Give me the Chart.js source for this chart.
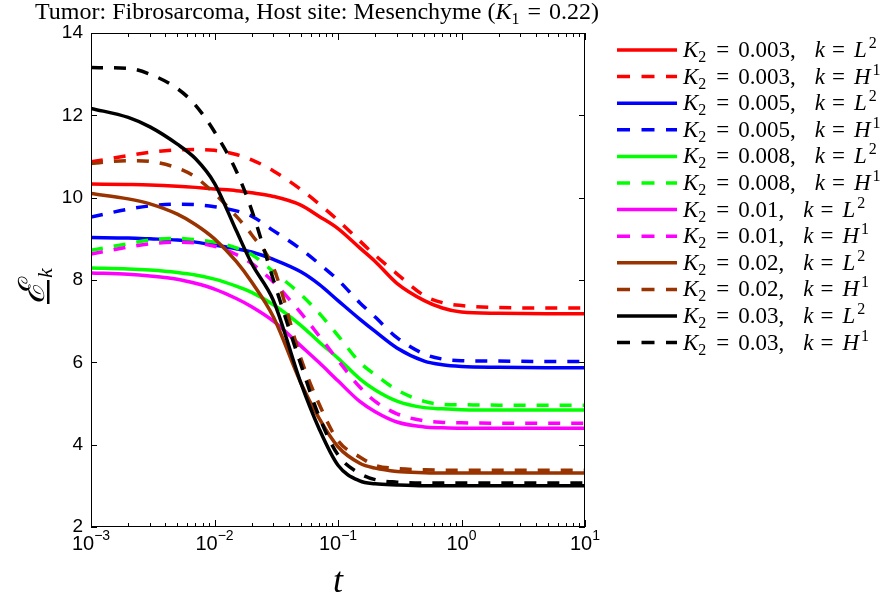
<!DOCTYPE html>
<html>
<head>
<meta charset="utf-8">
<script src="https://cdn.jsdelivr.net/npm/chart.js@4/dist/chart.umd.min.js"></script>
<style>
  html, body { margin: 0; padding: 0; background: #fff; }
  #wrap { width: 895px; height: 601px; position: relative; }
</style>
</head>
<body>
<div id="wrap"><canvas id="myChart" width="895" height="601"></canvas></div>
<script>
// time points (log axis) shared by all curves
var times = [0.001, 0.002, 0.003, 0.005, 0.007, 0.01, 0.015, 0.02, 0.03, 0.05, 0.07, 0.1, 0.15, 0.2, 0.3, 0.5, 0.7, 1, 2, 5, 10];

var k2Values = ['0.003', '0.003', '0.005', '0.005', '0.008', '0.008', '0.01', '0.01', '0.02', '0.02', '0.03', '0.03'];
var normNames = ['L', 'H', 'L', 'H', 'L', 'H', 'L', 'H', 'L', 'H', 'L', 'H'];
var normExps = ['2', '1', '2', '1', '2', '1', '2', '1', '2', '1', '2', '1'];
var colors = ['#ff0000', '#ff0000', '#0000ff', '#0000ff', '#00ff00', '#00ff00', '#ff00ff', '#ff00ff', '#993300', '#993300', '#000000', '#000000'];

var red_L2 = [10.33, 10.32, 10.31, 10.28, 10.25, 10.21, 10.17, 10.12, 10.03, 9.82, 9.55, 9.25, 8.78, 8.45, 7.92, 7.5, 7.32, 7.22, 7.19, 7.18, 7.18];
var red_H1 = [10.87, 11.02, 11.1, 11.16, 11.17, 11.15, 11.05, 10.92, 10.65, 10.2, 9.85, 9.45, 8.95, 8.6, 8.15, 7.62, 7.45, 7.38, 7.33, 7.32, 7.32];
var blue_L2 = [9.03, 9.02, 9.0, 8.97, 8.92, 8.85, 8.76, 8.68, 8.5, 8.2, 7.9, 7.5, 7.05, 6.75, 6.35, 6.03, 5.94, 5.9, 5.88, 5.87, 5.87];
var blue_H1 = [9.53, 9.72, 9.8, 9.84, 9.83, 9.78, 9.68, 9.55, 9.2, 8.75, 8.4, 8.0, 7.45, 7.1, 6.6, 6.2, 6.08, 6.04, 6.03, 6.02, 6.02];
var green_L2 = [8.29, 8.27, 8.24, 8.18, 8.12, 8.02, 7.85, 7.7, 7.4, 6.9, 6.5, 6.1, 5.6, 5.33, 5.06, 4.9, 4.87, 4.85, 4.84, 4.84, 4.84];
var green_H1 = [8.72, 8.88, 8.97, 9.01, 8.98, 8.92, 8.78, 8.62, 8.2, 7.65, 7.2, 6.65, 6.0, 5.7, 5.33, 5.05, 4.98, 4.97, 4.96, 4.96, 4.96];
var magenta_L2 = [8.17, 8.14, 8.1, 8.02, 7.92, 7.78, 7.55, 7.35, 7.0, 6.4, 6.0, 5.55, 5.05, 4.8, 4.55, 4.43, 4.41, 4.4, 4.4, 4.4, 4.4];
var magenta_H1 = [8.63, 8.8, 8.88, 8.92, 8.9, 8.82, 8.62, 8.4, 7.95, 7.2, 6.65, 6.05, 5.4, 5.05, 4.75, 4.58, 4.54, 4.53, 4.52, 4.52, 4.52];
var brown_L2 = [10.1, 9.97, 9.85, 9.6, 9.35, 9.0, 8.45, 7.95, 7.1, 5.5, 4.65, 3.95, 3.55, 3.43, 3.35, 3.32, 3.31, 3.31, 3.31, 3.31, 3.31];
var brown_H1 = [10.83, 10.9, 10.88, 10.72, 10.5, 10.1, 9.55, 9.1, 8.3, 6.1, 5.0, 4.1, 3.7, 3.5, 3.42, 3.39, 3.38, 3.38, 3.38, 3.38, 3.38];
var black_L2 = [12.17, 11.95, 11.72, 11.3, 10.95, 10.35, 9.2, 8.4, 7.5, 5.5, 4.4, 3.5, 3.12, 3.05, 3.02, 3.0, 3.0, 3.0, 3.0, 3.0, 3.0];
var black_H1 = [13.16, 13.14, 13.0, 12.65, 12.25, 11.6, 10.65, 9.7, 8.0, 5.95, 4.7, 3.75, 3.3, 3.15, 3.09, 3.07, 3.07, 3.07, 3.07, 3.07, 3.07];

var allSeries = [red_L2, red_H1, blue_L2, blue_H1, green_L2, green_H1, magenta_L2, magenta_H1, brown_L2, brown_H1, black_L2, black_H1];

var yTicks = [2, 4, 6, 8, 10, 12, 14];
var xTickExps = [-3, -2, -1, 0, 1];

var DASH = [12, 11];
var LINE_W = 3.5;
var SERIF = '"Liberation Serif", "DejaVu Serif", serif';
var SANS = '"Liberation Sans", Arial, sans-serif';

// draws a run of text pieces, each with its own style/size/offset
function drawRich(ctx, parts, x, y) {
    parts.forEach(p => {
        x += (p.pre || 0);
        ctx.font = (p.i ? 'italic ' : '') + p.s + 'px ' + SERIF;
        ctx.fillText(p.t, x, y + (p.dy || 0));
        x += ctx.measureText(p.t).width;
    });
    return x;
}

function richWidth(ctx, parts) {
    var w = 0;
    parts.forEach(p => {
        ctx.font = (p.i ? 'italic ' : '') + p.s + 'px ' + SERIF;
        w += ctx.measureText(p.t).width + (p.pre || 0);
    });
    return w;
}

var decorPlugin = {
    id: 'decor',
    afterDraw(chart) {
        const ctx = chart.ctx;
        const area = chart.chartArea;
        const xs = chart.scales.x;
        const ys = chart.scales.y;
        ctx.save();

        // box
        ctx.strokeStyle = '#000';
        ctx.lineWidth = 1;
        ctx.strokeRect(area.left + 0.5, area.top + 0.5, area.right - area.left - 1, area.bottom - area.top - 1);

        // x ticks, major and minor, bottom and top
        ctx.beginPath();
        for (let d = -3; d <= 1; d++) {
            for (let m = 1; m <= 9; m++) {
                const v = m * Math.pow(10, d);
                if (v > 10.0001) break;
                const px = Math.round(xs.getPixelForValue(v)) + 0.5;
                const len = m === 1 ? 7 : 4;
                ctx.moveTo(px, area.bottom);
                ctx.lineTo(px, area.bottom - len);
                ctx.moveTo(px, area.top);
                ctx.lineTo(px, area.top + len);
            }
        }
        yTicks.forEach(v => {
            const py = Math.round(ys.getPixelForValue(v)) + 0.5;
            ctx.moveTo(area.left, py);
            ctx.lineTo(area.left + 6, py);
            ctx.moveTo(area.right, py);
            ctx.lineTo(area.right - 6, py);
        });
        ctx.stroke();

        // x tick labels 10^n
        ctx.fillStyle = '#000';
        ctx.textBaseline = 'alphabetic';
        xTickExps.forEach(e => {
            const px = xs.getPixelForValue(Math.pow(10, e));
            ctx.font = '20px ' + SANS;
            const wb = ctx.measureText('10').width;
            const es = e < 0 ? '\u2212' + (-e) : String(e);
            ctx.font = '14px ' + SANS;
            const we = ctx.measureText(es).width;
            const x0 = px - (wb + we) / 2;
            ctx.font = '20px ' + SANS;
            ctx.fillText('10', x0, 550);
            ctx.font = '14px ' + SANS;
            ctx.fillText(es, x0 + wb, 540);
        });

        // x axis title
        ctx.font = 'italic 36px ' + SERIF;
        ctx.textAlign = 'center';
        ctx.fillText('t', (area.left + area.right) / 2, 592);
        ctx.textAlign = 'left';

        // y axis title: underlined script E with subscript k, rotated
        ctx.save();
        ctx.translate(48, 304);
        ctx.rotate(-Math.PI / 2);
        ctx.font = 'italic 36px ' + SERIF;
        ctx.fillText('\u2130', 0, -4);
        const we = ctx.measureText('\u2130').width;
        ctx.fillRect(0, -1, we + 2, 2.5);
        ctx.font = 'italic 22px ' + SERIF;
        ctx.fillText('k', we + 4, 4);
        ctx.restore();

        // title
        const titleParts = [
            { t: 'Tumor: Fibrosarcoma, Host site: Mesenchyme (', s: 24 },
            { t: 'K', s: 24, i: true },
            { t: '1', s: 16, dy: 5 },
            { t: '=', s: 24, pre: 8 },
            { t: '0.22)', s: 24, pre: 8 }
        ];
        const tw = richWidth(ctx, titleParts);
        drawRich(ctx, titleParts, 317 - tw / 2, 19);

        // legend
        allSeries.forEach((s, i) => {
            const y = 50 + i * 26.6;
            ctx.strokeStyle = colors[i];
            ctx.lineWidth = LINE_W;
            ctx.setLineDash(normNames[i] === 'H' ? [13, 11.5] : []);
            ctx.beginPath();
            ctx.moveTo(617, y);
            ctx.lineTo(677, y);
            ctx.stroke();
            ctx.setLineDash([]);
            ctx.fillStyle = '#000';
            drawRich(ctx, [
                { t: 'K', s: 23, i: true },
                { t: '2', s: 16, dy: 5 },
                { t: '=', s: 23, pre: 10 },
                { t: k2Values[i] + ',', s: 23, pre: 9 },
                { t: 'k', s: 23, i: true, pre: 19 },
                { t: '=', s: 23, pre: 7 },
                { t: normNames[i], s: 23, i: true, pre: 9 },
                { t: normExps[i], s: 16, dy: -9, pre: 2 }
            ], 683, y + 7);
        });
        ctx.restore();
    }
};

const ctx = document.getElementById('myChart').getContext('2d');
new Chart(ctx, {
    type: 'line',
    data: {
        datasets: allSeries.map((vals, i) => ({
            label: 'K2 = ' + k2Values[i] + ', k = ' + normNames[i] + normExps[i],
            data: vals.map((v, j) => ({ x: times[j], y: v })),
            borderColor: colors[i],
            backgroundColor: colors[i],
            borderWidth: LINE_W,
            borderDash: normNames[i] === 'H' ? DASH : [],
            pointRadius: 0,
            cubicInterpolationMode: 'monotone',
            fill: false,
            order: allSeries.length - i
        }))
    },
    options: {
        responsive: false,
        animation: false,
        layout: { padding: { left: 0, top: 33, right: 310, bottom: 0 } },
        plugins: {
            legend: { display: false },
            title: { display: false },
            tooltip: { enabled: false }
        },
        scales: {
            x: {
                type: 'logarithmic',
                min: 0.001,
                max: 10,
                grid: { display: false, drawTicks: false },
                border: { display: false },
                ticks: { display: false },
                afterFit: scale => { scale.height = 74; }
            },
            y: {
                type: 'linear',
                min: 2,
                max: 14,
                grid: { display: false, drawTicks: false },
                border: { display: false },
                ticks: {
                    stepSize: 2,
                    padding: 8,
                    color: '#000',
                    font: { family: SANS, size: 19 }
                },
                afterFit: scale => { scale.width = 91; }
            }
        }
    },
    plugins: [decorPlugin]
});
</script>
</body>
</html>
